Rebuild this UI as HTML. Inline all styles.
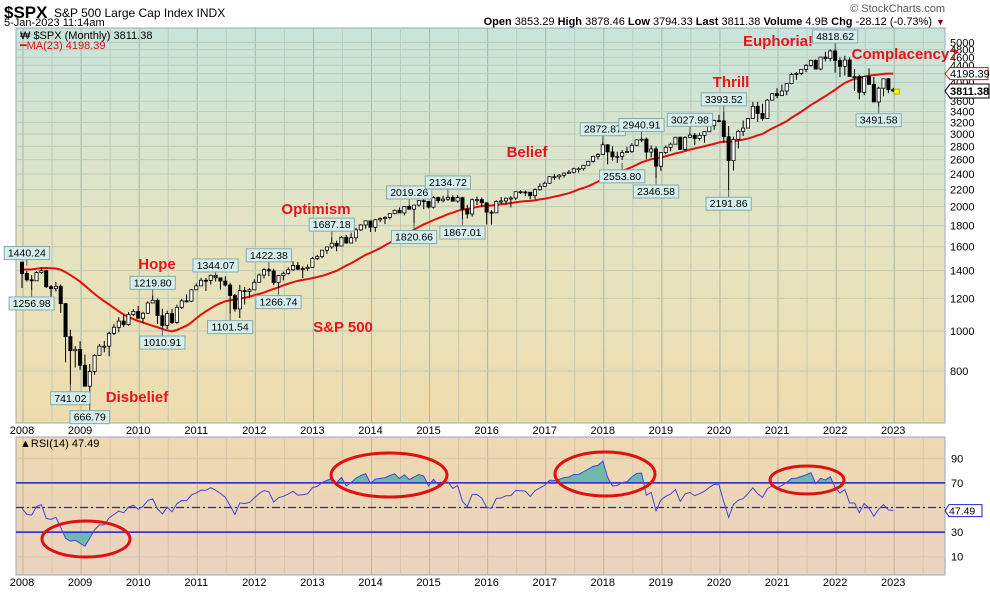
<!DOCTYPE html>
<html><head><meta charset="utf-8"><style>
body{margin:0;background:#fff;font-family:"Liberation Sans",sans-serif}
svg text{font-family:"Liberation Sans",sans-serif}
</style></head><body>
<svg id="c" width="990" height="591" xmlns="http://www.w3.org/2000/svg">
<defs>
<linearGradient id="gm" x1="0" y1="0" x2="0" y2="1"><stop offset="0" stop-color="#c8e4dc"/><stop offset="0.55" stop-color="#e6e4c0"/><stop offset="1" stop-color="#efdcae"/></linearGradient>
<linearGradient id="gr" x1="0" y1="0" x2="0" y2="1"><stop offset="0" stop-color="#eed9b0"/><stop offset="1" stop-color="#ebd3c0"/></linearGradient>
<clipPath id="cm"><rect x="16" y="28" width="929" height="395"/></clipPath>
<clipPath id="above70"><rect x="16" y="437" width="929" height="45"/></clipPath>
<clipPath id="below30"><rect x="16" y="532" width="929" height="43"/></clipPath>
</defs>
<text x="4" y="18" font-size="17" font-weight="bold">$SPX</text>
<text x="54" y="17" font-size="12">S&amp;P 500 Large Cap Index  INDX</text>
<text x="4" y="26" font-size="11">5-Jan-2023 11:14am</text>
<text x="945" y="12" font-size="11" fill="#555" text-anchor="end">© StockCharts.com</text>
<text x="932" y="25" font-size="11" text-anchor="end"><tspan font-weight="bold">Open</tspan> 3853.29  <tspan font-weight="bold">High</tspan> 3878.46  <tspan font-weight="bold">Low</tspan> 3794.33  <tspan font-weight="bold">Last</tspan> 3811.38  <tspan font-weight="bold">Volume</tspan> 4.9B  <tspan font-weight="bold">Chg</tspan> -28.12 (-0.73%)</text>
<text x="936" y="25" font-size="9" fill="#800020">▼</text>
<rect x="16" y="28" width="929" height="395" fill="url(#gm)" stroke="#9ab"/>
<rect x="16" y="437" width="929" height="138" fill="url(#gr)" stroke="#9ab"/>
<g id="grid"></g>
<g id="main" clip-path="url(#cm)"></g>
<g id="rsi"></g>
<g id="axes"></g>
<g id="notes"></g>
</svg>
<script>
const pre=[1295,1311,1270,1270,1277,1304,1336,1378,1401,1418,1438,1407,1421,1482,1531,1503,1455,1474,1527,1549,1481,1468];
const closes=[1378,1330,1323,1386,1400,1280,1267,1283,1165,969,896,903,
826,735,798,873,919,919,987,1021,1057,1036,1096,1115,
1074,1104,1169,1187,1089,1031,1102,1049,1141,1183,1181,1258,
1286,1327,1326,1364,1345,1321,1292,1219,1131,1253,1247,1258,
1312,1366,1408,1398,1310,1362,1379,1407,1441,1412,1416,1426,
1498,1515,1569,1598,1631,1606,1686,1633,1682,1757,1806,1848,
1783,1859,1872,1884,1924,1960,1931,2003,1972,2018,2068,2059,
1995,2105,2068,2086,2107,2063,2104,1972,1920,2079,2080,2044,
1940,1932,2060,2065,2097,2099,2174,2171,2168,2126,2199,2239,
2279,2364,2363,2384,2412,2423,2470,2472,2519,2575,2648,2674,
2824,2714,2641,2648,2705,2718,2816,2902,2914,2712,2760,2507,
2704,2784,2834,2946,2752,2942,2980,2926,2977,3038,3141,3231,
3226,2954,2585,2912,3044,3100,3271,3500,3363,3270,3622,3756,
3714,3811,3973,4181,4204,4298,4395,4523,4308,4605,4567,4766,
4516,4374,4530,4132,4132,3785,4130,3955,3586,3872,4080,3840,3811];
const highs=[1471,1396,1366,1397,1426,1405,1292,1314,1296,1167,1007,919,
944,877,832,878,930,946,996,1039,1080,1101,1111,1130,
1150,1113,1180,1220,1200,1132,1120,1130,1158,1196,1227,1263,
1303,1345,1344,1370,1371,1347,1357,1308,1230,1293,1277,1270,
1334,1378,1420,1422,1415,1363,1392,1427,1475,1470,1434,1448,
1510,1530,1570,1598,1687,1654,1698,1709,1730,1776,1813,1849,
1850,1868,1884,1898,1924,1968,1991,2005,2019,2018,2075,2094,
2064,2119,2115,2125,2135,2130,2133,2113,2021,2094,2116,2104,
2038,1963,2073,2111,2103,2120,2178,2194,2188,2169,2214,2278,
2300,2372,2401,2398,2418,2454,2484,2491,2520,2582,2657,2695,
2873,2835,2802,2717,2742,2791,2849,2916,2941,2940,2815,2800,
2708,2814,2861,2949,2954,2964,3028,3014,3022,3050,3154,3248,
3337,3394,3136,2955,3068,3233,3280,3588,3588,3550,3646,3760,
3870,3950,3983,4218,4238,4302,4430,4538,4546,4608,4744,4808,
4819,4596,4637,4594,4307,4177,4141,4325,4119,3905,4080,4101,3878];
const lows=[1271,1317,1257,1324,1374,1272,1200,1247,1107,840,741,816,
805,735,667,784,878,888,869,978,993,1021,1030,1086,
1071,1045,1100,1170,1040,1011,1011,1040,1040,1131,1173,1174,
1262,1294,1250,1295,1318,1259,1282,1102,1114,1075,1159,1202,
1258,1312,1340,1357,1292,1267,1326,1368,1397,1403,1343,1398,
1426,1485,1501,1537,1581,1560,1605,1627,1633,1646,1746,1768,
1737,1738,1834,1814,1863,1916,1930,1905,1965,1821,2001,1972,
1981,1980,2039,2048,2067,2056,2044,1867,1872,1893,2019,1993,
1812,1810,1937,2033,2025,1992,2075,2147,2120,2084,2084,2187,
2245,2271,2322,2329,2353,2405,2407,2418,2446,2520,2557,2605,
2683,2533,2585,2553,2594,2698,2699,2802,2864,2604,2631,2347,
2443,2682,2723,2848,2750,2729,2953,2822,2892,2856,3050,3070,
3214,2855,2192,2447,2767,2966,3101,3280,3209,3233,3280,3633,
3662,3725,3723,3959,4056,4165,4233,4368,4305,4278,4495,4496,
4223,4115,4157,4129,3811,3637,3722,3955,3584,3492,3699,3765,3794];
const yearLabels=["2008","2009","2010","2011","2012","2013","2014","2015","2016","2017","2018","2019","2020","2021","2022","2023"];
const priceTicks=[800,1000,1200,1400,1600,1800,2000,2200,2400,2600,2800,3000,3200,3400,3600,4000,4200,4400,4600,4800,5000];
const rsiTicks=[90,70,50,30,10];
const annotations=[["1440.24",1,1440.24,"up"],["1256.98",2,1256.98,"dn"],["741.02",10,741.02,"dn"],["666.79",14,666.79,"dn"],
["1219.80",27,1219.8,"up"],["1010.91",29,1010.91,"dn"],["1344.07",40,1344.07,"up"],["1101.54",43,1101.54,"dn"],
["1422.38",51,1422.38,"up"],["1266.74",53,1266.74,"dn"],["1687.18",64,1687.18,"up"],["1820.66",81,1820.66,"dn"],
["2019.26",80,2019.26,"up"],["2134.72",88,2134.72,"up"],["1867.01",91,1867.01,"dn"],["2872.87",120,2872.87,"up"],
["2553.80",124,2553.8,"dn"],["2940.91",128,2940.91,"up"],["2346.58",131,2346.58,"dn"],["3027.98",138,3027.98,"up"],
["3393.52",145,3393.52,"up"],["2191.86",146,2191.86,"dn"],["4818.62",168,4818.62,"up"],["3491.58",177,3491.58,"dn"]];
const phases=[["Hope",157,269],["Disbelief",137,402],["Optimism",316,214],["Belief",527,157],["Thrill",731,87],["Euphoria!",778,46],["Complacency?",905,59],["S&P 500",343,332]];

const NS="http://www.w3.org/2000/svg";
function mk(t,a,p,txt){const e=document.createElementNS(NS,t);for(const k in a)e.setAttribute(k,a[k]);if(txt!=null)e.textContent=txt;p.appendChild(e);return e;}
const xOf=i=>22+4.84*i;
const yP=p=>331-413*Math.log10(p/1000);
const yR=v=>569-1.23*v;
const grid=document.getElementById('grid'),main=document.getElementById('main'),rsiG=document.getElementById('rsi'),axes=document.getElementById('axes'),notes=document.getElementById('notes');

// grid
for(let k=-1;k<32;k++){const x=xOf(k*6)+1;if(x<17||x>944)continue;
 const g1=mk('line',{x1:x,x2:x,y1:28,y2:423,stroke:k%2==0?'#a3b8a8':'#bccbbb','stroke-width':1},grid);
 
 const g2=mk('line',{x1:x,x2:x,y1:437,y2:575,stroke:k%2==0?'#c4b49a':'#d6c6ac','stroke-width':1},grid);
 }
priceTicks.forEach(p=>{const y=yP(p);if(y<29)return;
 const l=mk('line',{x1:16,x2:945,y1:y,y2:y,stroke:'#bccbbb'},grid);
 
 if(p!==4200){const t=mk('text',{x:950,y:y+4,'font-size':11},axes,String(p));
 }});
yearLabels.forEach((s,i)=>{const x=xOf(i*12);
 const t=mk('text',{x:x,y:434,'font-size':11,'text-anchor':'middle'},axes,s);
 const t2=mk('text',{x:x,y:586,'font-size':11,'text-anchor':'middle'},axes,s);});
[10,30,50,70,90].forEach(v=>{const l=mk('line',{x1:16,x2:945,y1:yR(v),y2:yR(v),stroke:'#d6c6ac'},grid);
 });
rsiTicks.forEach(v=>{if(v===50)return;const t=mk('text',{x:951,y:yR(v)+4,'font-size':11},axes,String(v));
 });

// MA(23)
const all=pre.concat(closes);let ma=[];
for(let i=0;i<closes.length;i++){const j=i+pre.length;let s=0,n=0;for(let k=Math.max(0,j-22);k<=j;k++){s+=all[k];n++;}ma.push(s/n);}
const maLine=mk('polyline',{points:ma.map((v,i)=>xOf(i)+','+yP(v)).join(' '),fill:'none',stroke:'#e01010','stroke-width':2},main);


// candles
closes.forEach((c,i)=>{const o=i==0?1468:closes[i-1];const x=xOf(i);
 const g=mk('g',{},main);
 mk('line',{x1:x,x2:x,y1:yP(highs[i]),y2:yP(lows[i]),stroke:'#000','stroke-width':1},g);
 const t=yP(Math.max(o,c)),b=yP(Math.min(o,c));
 mk('rect',{x:x-1.6,y:t,width:3.2,height:Math.max(1,b-t),fill:c>=o?'#fff':'#000',stroke:'#000','stroke-width':0.8},g);});
const last=mk('rect',{x:xOf(180)+1,y:yP(3811)-2,width:5,height:5,fill:'#ff0',stroke:'#aa0'},main);


// annotations
annotations.forEach(a=>{const x=xOf(a[1]),yv=yP(a[2]);const w=a[0].length*5.6+6;
 const g=mk('g',{},notes);
 let by=a[3]=='up'?yv-19:yv+7;
 mk('line',{x1:x,x2:x,y1:a[3]=='up'?by+13:yv,y2:a[3]=='up'?yv:by,stroke:'#556'},g);
 mk('rect',{x:x-w/2,y:by,width:w,height:13,fill:'#d5eeec',stroke:'#8aa'},g);
 mk('text',{x:x,y:by+10,'font-size':10.5,'text-anchor':'middle'},g,a[0]);});
phases.forEach(p=>{const t=mk('text',{x:p[1],y:p[2],'font-size':15,'font-weight':'bold',fill:'#e8141c','text-anchor':'middle'},notes,p[0]);
 });

// legends
let t=mk('text',{x:20,y:39,'font-size':11},notes,'₩ $SPX (Monthly) 3811.38');
t=mk('text',{x:20,y:49,'font-size':11,fill:'#e01010'},notes,'━MA(23) 4198.39');
t=mk('text',{x:20,y:447,'font-size':11},notes,'▲RSI(14) 47.49');

// price boxes
let g=mk('g',{},axes);
mk('path',{d:`M945 ${yP(4198)} l5 -6 h38 v12 h-38 z`,fill:'#fff',stroke:'#e01010'},g);
mk('text',{x:950,y:yP(4198)+4,'font-size':11},g,'4198.39');
g=mk('g',{},axes);
mk('path',{d:`M945 ${yP(3811)} l5 -7 h39 v14 h-39 z`,fill:'#fff',stroke:'#000'},g);
mk('text',{x:950,y:yP(3811)+4,'font-size':11,'font-weight':'bold'},g,'3811.38');

// RSI
let gains=0,loss=0;const ch=[];for(let k=1;k<all.length;k++)ch.push(all[k]-all[k-1]);
for(let k=0;k<14;k++){if(ch[k]>0)gains+=ch[k];else loss-=ch[k];}gains/=14;loss/=14;
const rsi=[];for(let k=14;k<ch.length;k++){const d=ch[k];gains=(gains*13+Math.max(d,0))/14;loss=(loss*13+Math.max(-d,0))/14;
 if(k>=pre.length-1)rsi.push(100-100/(1+gains/loss));}
const pts=rsi.map((v,i)=>[xOf(i),yR(v)]);
const area70='M'+pts[0][0]+','+yR(70)+' '+pts.map(p=>'L'+p[0]+','+p[1]).join(' ')+' L'+pts[pts.length-1][0]+','+yR(70)+'Z';
const area30='M'+pts[0][0]+','+yR(30)+' '+pts.map(p=>'L'+p[0]+','+p[1]).join(' ')+' L'+pts[pts.length-1][0]+','+yR(30)+'Z';
let a1=mk('path',{d:area70,fill:'#6fb8ac','clip-path':'url(#above70)'},rsiG);
let a2=mk('path',{d:area30,fill:'#6fb8ac','clip-path':'url(#below30)'},rsiG);
let l70=mk('line',{x1:16,x2:945,y1:yR(70),y2:yR(70),stroke:'#2020d0','stroke-width':1.5},rsiG);
let l30=mk('line',{x1:16,x2:945,y1:yR(30),y2:yR(30),stroke:'#2020d0','stroke-width':1.5},rsiG);
let l50=mk('line',{x1:16,x2:945,y1:yR(50),y2:yR(50),stroke:'#2020d0','stroke-width':1.2,'stroke-dasharray':'8,3,2,3'},rsiG);
let rl=mk('polyline',{points:pts.map(p=>p.join(',')).join(' '),fill:'none',stroke:'#4444dd','stroke-width':1},rsiG);
[[86,539,44,18],[389,475,58,22],[605,474,50,22],[807,480,37,14]].forEach(e=>{const el=mk('ellipse',{cx:e[0],cy:e[1],rx:e[2],ry:e[3],fill:'none',stroke:'#e01010','stroke-width':3},rsiG);
 });
g=mk('g',{},axes);
mk('path',{d:`M945 ${yR(47.49)} l4 -6 h33 v12 h-33 z`,fill:'#fff',stroke:'#2020d0'},g);
mk('text',{x:949,y:yR(47.49)+4,'font-size':10.5},g,'47.49');
</script>
</body></html>
